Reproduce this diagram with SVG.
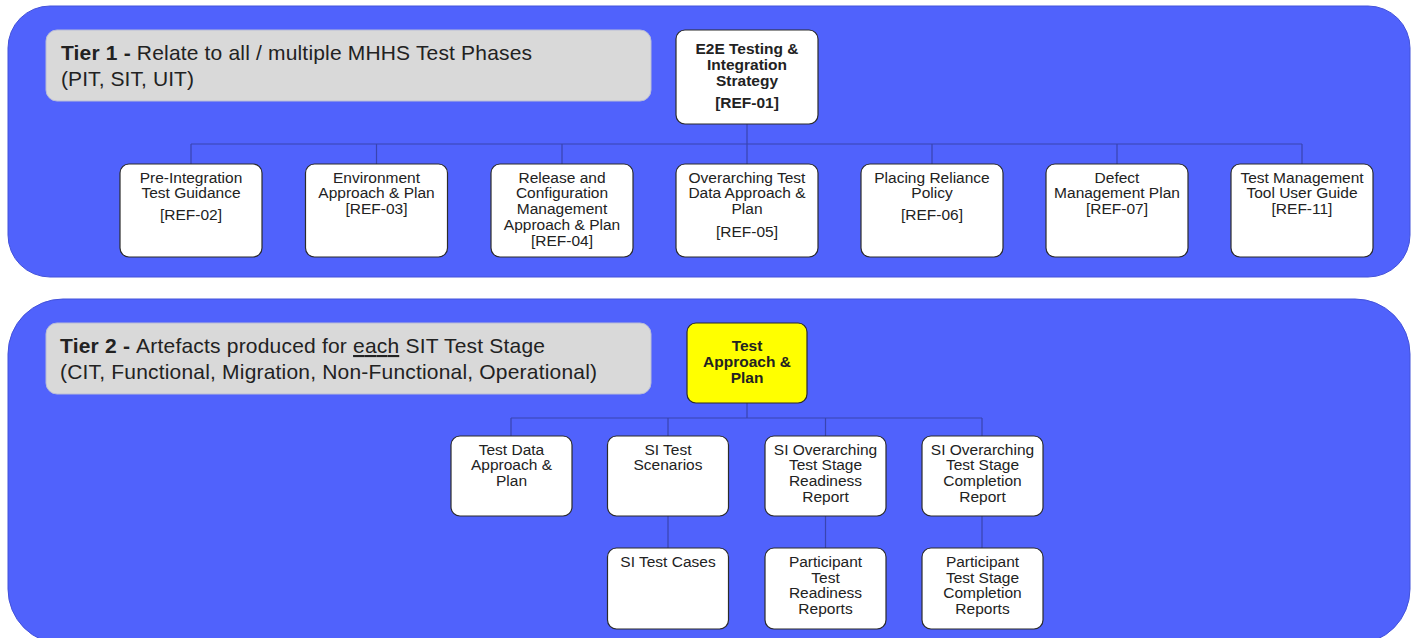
<svg xmlns="http://www.w3.org/2000/svg" width="1416" height="638" viewBox="0 0 1416 638">
<style>
.panel{fill:#5062FC;stroke:#4352DA;stroke-width:1}
.label{fill:#D9D9D9;stroke:#B8BCD8;stroke-width:1}
.node{fill:#FFFFFF;stroke:#2B2B2B;stroke-width:1.2}
.hl{fill:#FFFF00;stroke:#2B2B2B;stroke-width:1.2}
.conn{fill:none;stroke:#3944B0;stroke-width:1.2}
text{font-family:"Liberation Sans",Arial,sans-serif;fill:#222222}
.t{font-size:15.5px;text-anchor:middle}
.tb{font-size:15.5px;font-weight:bold;text-anchor:middle}
.big{font-size:21px}
</style>
<rect width="1416" height="638" fill="#FFFFFF"/>
<g id="tier1-panel">
<rect class="panel" x="8" y="6" width="1402" height="271" rx="42"/>
</g>
<g id="tier2-panel">
<rect class="panel" x="8" y="299" width="1402" height="345" rx="55"/>
</g>
<g id="tier1-label">
<rect class="label" x="46" y="30" width="605" height="71" rx="11"/>
<text class="big" x="61" y="60" textLength="471" lengthAdjust="spacing"><tspan font-weight="bold">Tier 1 - </tspan>Relate to all / multiple MHHS Test Phases</text>
<text class="big" x="61" y="86" textLength="133" lengthAdjust="spacing">(PIT, SIT, UIT)</text>
</g>
<g id="tier2-label">
<rect class="label" x="46" y="323" width="605" height="71" rx="11"/>
<text class="big" x="60" y="353" textLength="485" lengthAdjust="spacing"><tspan font-weight="bold">Tier 2 - </tspan>Artefacts produced for <tspan text-decoration="underline">each</tspan> SIT Test Stage</text>
<text class="big" x="60" y="379" textLength="537" lengthAdjust="spacing">(CIT, Functional, Migration, Non-Functional, Operational)</text>
</g>
<g id="connectors">
<path class="conn" d="M747 124V144M191 144H1302M191 144V164M376.5 144V164M562 144V164M747 144V164M932 144V164M1117 144V164M1302 144V164"/>
<path class="conn" d="M747 403V418M511 418H982M511 418V436M668 418V436M825.5 418V436M982 418V436"/>
<path class="conn" d="M668 516V548M825.5 516V548M982 516V548"/>
</g>
<g id="ref01">
<rect class="node" x="676" y="30" width="142" height="94" rx="9"/>
<text class="tb" x="747" y="54">E2E Testing &amp;</text>
<text class="tb" x="747" y="69.5">Integration</text>
<text class="tb" x="747" y="86">Strategy</text>
<text class="tb" x="747" y="108">[REF-01]</text>
</g>
<g id="ref02">
<rect class="node" x="120" y="164" width="142" height="93" rx="9"/>
<text class="t" x="191" y="182.5">Pre-Integration</text>
<text class="t" x="191" y="198">Test Guidance</text>
<text class="t" x="191" y="220">[REF-02]</text>
</g>
<g id="ref03">
<rect class="node" x="305.5" y="164" width="142" height="93" rx="9"/>
<text class="t" x="376.5" y="182.5">Environment</text>
<text class="t" x="376.5" y="198">Approach &amp; Plan</text>
<text class="t" x="376.5" y="214">[REF-03]</text>
</g>
<g id="ref04">
<rect class="node" x="491" y="164" width="142" height="93" rx="9"/>
<text class="t" x="562" y="182.5">Release and</text>
<text class="t" x="562" y="198">Configuration</text>
<text class="t" x="562" y="214">Management</text>
<text class="t" x="562" y="230">Approach &amp; Plan</text>
<text class="t" x="562" y="246">[REF-04]</text>
</g>
<g id="ref05">
<rect class="node" x="676" y="164" width="142" height="93" rx="9"/>
<text class="t" x="747" y="182.5">Overarching Test</text>
<text class="t" x="747" y="198">Data Approach &amp;</text>
<text class="t" x="747" y="214">Plan</text>
<text class="t" x="747" y="237">[REF-05]</text>
</g>
<g id="ref06">
<rect class="node" x="861" y="164" width="142" height="93" rx="9"/>
<text class="t" x="932" y="182.5">Placing Reliance</text>
<text class="t" x="932" y="198">Policy</text>
<text class="t" x="932" y="220">[REF-06]</text>
</g>
<g id="ref07">
<rect class="node" x="1046" y="164" width="142" height="93" rx="9"/>
<text class="t" x="1117" y="182.5">Defect</text>
<text class="t" x="1117" y="198">Management Plan</text>
<text class="t" x="1117" y="214">[REF-07]</text>
</g>
<g id="ref11">
<rect class="node" x="1231" y="164" width="142" height="93" rx="9"/>
<text class="t" x="1302" y="182.5">Test Management</text>
<text class="t" x="1302" y="198">Tool User Guide</text>
<text class="t" x="1302" y="214">[REF-11]</text>
</g>
<g id="test-approach-plan">
<rect class="hl" x="687" y="323" width="120" height="80" rx="9"/>
<text class="tb" x="747" y="351">Test</text>
<text class="tb" x="747" y="367">Approach &amp;</text>
<text class="tb" x="747" y="383">Plan</text>
</g>
<g id="test-data">
<rect class="node" x="451" y="436" width="121" height="80" rx="9"/>
<text class="t" x="511.5" y="454.5">Test Data</text>
<text class="t" x="511.5" y="470">Approach &amp;</text>
<text class="t" x="511.5" y="486">Plan</text>
</g>
<g id="si-test-scenarios">
<rect class="node" x="607.5" y="436" width="121" height="80" rx="9"/>
<text class="t" x="668" y="454.5">SI Test</text>
<text class="t" x="668" y="470">Scenarios</text>
</g>
<g id="si-readiness-report">
<rect class="node" x="765" y="436" width="121" height="80" rx="9"/>
<text class="t" x="825.5" y="454.5">SI Overarching</text>
<text class="t" x="825.5" y="470">Test Stage</text>
<text class="t" x="825.5" y="486">Readiness</text>
<text class="t" x="825.5" y="502">Report</text>
</g>
<g id="si-completion-report">
<rect class="node" x="922" y="436" width="121" height="80" rx="9"/>
<text class="t" x="982.5" y="454.5">SI Overarching</text>
<text class="t" x="982.5" y="470">Test Stage</text>
<text class="t" x="982.5" y="486">Completion</text>
<text class="t" x="982.5" y="502">Report</text>
</g>
<g id="si-test-cases">
<rect class="node" x="607.5" y="548" width="121" height="81" rx="9"/>
<text class="t" x="668" y="567">SI Test Cases</text>
</g>
<g id="participant-readiness">
<rect class="node" x="765" y="548" width="121" height="81" rx="9"/>
<text class="t" x="825.5" y="567">Participant</text>
<text class="t" x="825.5" y="582.5">Test</text>
<text class="t" x="825.5" y="598">Readiness</text>
<text class="t" x="825.5" y="614">Reports</text>
</g>
<g id="participant-completion">
<rect class="node" x="922" y="548" width="121" height="81" rx="9"/>
<text class="t" x="982.5" y="567">Participant</text>
<text class="t" x="982.5" y="582.5">Test Stage</text>
<text class="t" x="982.5" y="598">Completion</text>
<text class="t" x="982.5" y="614">Reports</text>
</g>
</svg>
